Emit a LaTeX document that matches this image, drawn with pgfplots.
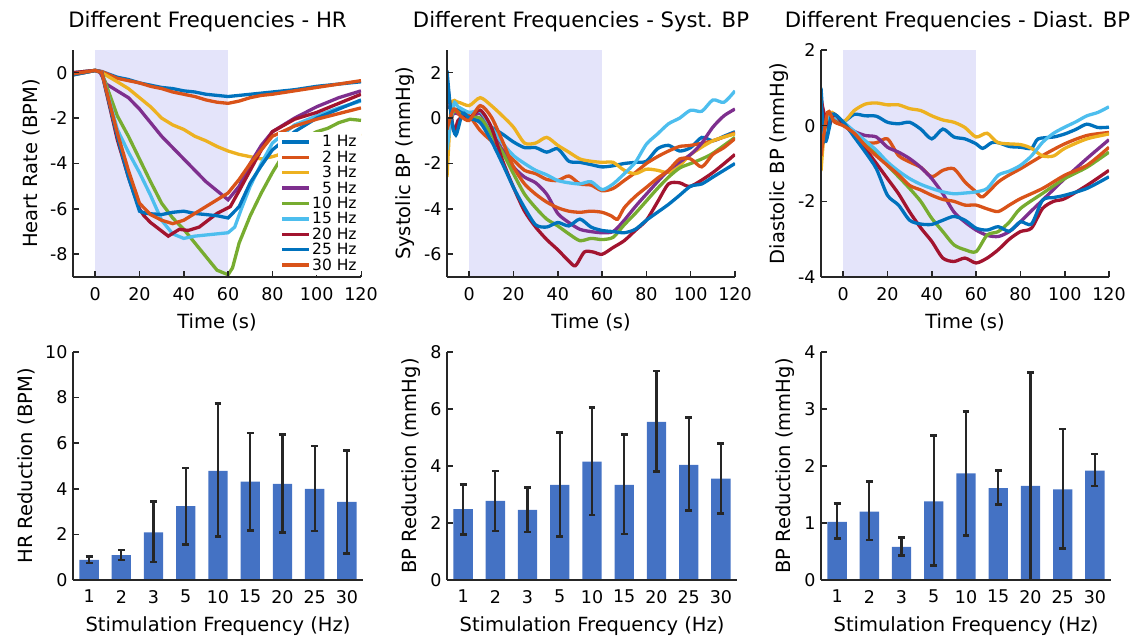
\documentclass[border=0pt]{standalone}
\usepackage{fontspec}
\setmainfont{DejaVu Sans}
\usepackage{pgfplots}
\pgfplotsset{compat=1.18}
\definecolor{m1}{RGB}{0,114,189}
\definecolor{m2}{RGB}{217,83,25}
\definecolor{m3}{RGB}{237,177,32}
\definecolor{m4}{RGB}{126,47,142}
\definecolor{m5}{RGB}{119,172,48}
\definecolor{m6}{RGB}{77,190,238}
\definecolor{m7}{RGB}{162,20,47}
\definecolor{barblue}{RGB}{68,114,196}
\definecolor{shade}{RGB}{228,228,250}
\definecolor{axgray}{RGB}{38,38,38}
\pgfplotsset{
  base/.style={
    scale only axis, anchor=south west,
    axis lines*=left, xtick pos=bottom, ytick pos=left,
    axis line style={line width=2bp, color=axgray},
    tick align=inside, major tick length=6bp,
    tick style={line width=1.6bp, color=axgray},
    tick label style={font=\fontsize{17.5bp}{20bp}\selectfont},
    label style={font=\fontsize{19.5bp}{22bp}\selectfont},
    xticklabel shift=6.5bp, yticklabel shift=2bp, ylabel shift=3bp, xlabel shift=7bp,
    /pgf/number format/assume math mode=true,
    axis on top,
  },
  top/.style={base, width=288bp, height=227bp, xmin=-10, xmax=120,
    xtick={0,20,...,120}, xlabel={Time (s)}},
  bot/.style={base, width=290bp, height=228bp, xmin=-0.5, xmax=8.5, ymin=0,
    xtick={0,...,8}, xticklabels={1,2,3,5,10,15,20,25,30},
    xtick style={draw=none}, xlabel={Stimulation Frequency (Hz)}},
  ln/.style={line width=3.3bp},
  sm/.style={line width=3.3bp, smooth, tension=0.45},
  brs/.style={ybar, bar width=0.6, fill=barblue, draw=none,
    error bars/.cd, y dir=both, y explicit, error mark=-,
    error bar style={line width=2.2bp, color=black!85},
    error mark options={rotate=90, line width=2.6bp, mark size=3.4bp, color=black!85}},
}
\begin{document}
\begin{tikzpicture}
\useasboundingbox (0,0) rectangle (1136bp,636bp);
\node[anchor=base, font=\fontsize{21.2bp}{24bp}\selectfont] at (207.5bp,608bp) {Different Frequencies - HR};
\node[anchor=base, font=\fontsize{21.2bp}{24bp}\selectfont] at (581bp,608bp) {Different Frequencies - Syst. BP};
\node[anchor=base, font=\fontsize{21.2bp}{24bp}\selectfont] at (957.5bp,608bp) {Different Frequencies - Diast. BP};

% ---------------- HR ----------------
\begin{axis}[top, at={(73bp,359bp)}, ymin=-9, ymax=1, ytick={-8,-6,...,0},
  ylabel={Heart Rate (BPM)},
  legend style={at={(1,0)}, anchor=south east, yshift=2bp, draw=none, fill=white,
    font=\fontsize{15.5bp}{16bp}\selectfont,
    nodes={inner sep=1.2bp, text height=11.5bp, text depth=1.5bp}},
  legend cell align=right,
  legend image code/.code={\draw[#1] (0bp,0bp) -- (27bp,0bp);}]
\addplot[draw=none, fill=shade, forget plot] coordinates {(0,-9) (60,-9) (60,1) (0,1)};
\addplot[ln, m1] coordinates {(-10,-0.05) (-5,0) (0,0.1) (3,0.05) (10,-0.2) (15,-0.3) (20,-0.45) (25,-0.55) (30,-0.65) (35,-0.7) (40,-0.8) (45,-0.85) (50,-0.95) (55,-1.0) (60,-1.05) (65,-1.0) (70,-0.95) (75,-0.9) (80,-0.85) (90,-0.75) (100,-0.6) (110,-0.5) (120,-0.4)};
\addplot[ln, m2] coordinates {(-10,-0.1) (-5,0) (0,0.1) (3,0.05) (10,-0.25) (15,-0.35) (20,-0.45) (25,-0.6) (30,-0.7) (35,-0.85) (40,-0.95) (45,-1.05) (50,-1.2) (55,-1.3) (60,-1.35) (65,-1.25) (70,-1.1) (75,-1.0) (80,-0.95) (90,-0.8) (100,-0.65) (110,-0.5) (120,-0.35)};
\addplot[ln, m3] coordinates {(-10,-0.05) (-5,0.05) (0,0.1) (3,0.0) (10,-0.4) (15,-0.7) (20,-1.1) (25,-1.5) (30,-2.0) (35,-2.3) (40,-2.5) (45,-2.8) (50,-3.0) (55,-3.25) (60,-3.45) (65,-3.6) (70,-3.7) (75,-3.8) (80,-3.7) (90,-3.4) (100,-3.0) (110,-2.8) (120,-2.7)};
\addplot[ln, m4] coordinates {(-10,0) (0,0.1) (2,0.05) (5,-0.5) (10,-0.8) (15,-1.1) (20,-1.6) (25,-2.2) (30,-2.8) (35,-3.3) (40,-3.8) (45,-4.3) (50,-4.8) (55,-5.2) (60,-5.6) (65,-5.0) (70,-4.0) (75,-3.2) (80,-2.6) (90,-2.0) (100,-1.5) (110,-1.1) (120,-0.8)};
\addplot[ln, m5] coordinates {(-10,-0.05) (0,0.1) (3,0) (10,-1.9) (15,-2.8) (20,-3.8) (25,-4.8) (30,-5.75) (35,-6.4) (40,-6.9) (45,-7.5) (50,-8.1) (55,-8.7) (60,-8.9) (62,-8.6) (65,-7.5) (70,-6.3) (75,-5.3) (80,-4.4) (85,-3.6) (90,-3.1) (100,-2.6) (105,-2.45) (110,-2.2) (115,-2.05) (120,-2.1)};
\addplot[ln, m6] coordinates {(-10,0) (0,0.1) (3,0) (10,-2.5) (15,-3.5) (20,-4.4) (25,-5.4) (30,-6.5) (35,-7.1) (40,-7.3) (45,-7.2) (50,-7.15) (55,-7.1) (60,-7.05) (63,-6.8) (66,-6.0) (70,-5.0) (75,-4.0) (80,-3.1) (90,-2.3) (100,-1.9) (110,-1.55) (120,-1.25)};
\addplot[ln, m7] coordinates {(-10,0) (0,0.1) (3,0) (10,-2.95) (15,-4.6) (20,-6.0) (22,-6.3) (25,-6.6) (29,-6.9) (33,-7.2) (38,-6.9) (42,-6.95) (47,-6.8) (51,-6.5) (55,-6.2) (61,-5.9) (65,-5.2) (70,-4.3) (75,-3.4) (80,-2.6) (90,-2.05) (100,-1.75) (110,-1.35) (120,-0.95)};
\addplot[ln, m1] coordinates {(-10,-0.1) (0,0.1) (3,0) (10,-2.8) (15,-4.6) (20,-6.1) (23,-6.2) (30,-6.25) (35,-6.15) (40,-6.1) (45,-6.2) (50,-6.25) (55,-6.3) (60,-6.4) (65,-5.9) (70,-4.85) (75,-4.1) (80,-3.4) (90,-2.6) (100,-2.0) (110,-1.6) (120,-1.2)};
\addplot[ln, m2] coordinates {(-10,-0.05) (0,0.1) (3,0) (10,-2.65) (15,-4.3) (20,-5.75) (25,-6.25) (30,-6.5) (35,-6.65) (40,-6.5) (45,-6.2) (50,-5.9) (55,-5.6) (60,-5.3) (65,-4.7) (70,-4.0) (75,-3.4) (80,-2.8) (90,-2.35) (100,-2.05) (110,-1.8) (120,-1.55)};
\legend{1 Hz,2 Hz,3 Hz,5 Hz,10 Hz,15 Hz,20 Hz,25 Hz,30 Hz}
\end{axis}

% ---------------- Systolic ----------------
\begin{axis}[top, at={(447bp,359bp)}, ymin=-7, ymax=3, ytick={-6,-4,...,2},
  ylabel={Systolic BP (mmHg)}]
\addplot[draw=none, fill=shade, forget plot] coordinates {(0,-7) (60,-7) (60,3) (0,3)};
\addplot[sm, m1] coordinates {(-10,0.5) (-7,0.4) (-3,0.3) (0,0.05) (5,-0.1) (10,-0.4) (15,-0.7) (20,-1.05) (25,-1.3) (30,-1.3) (35,-1.5) (40,-1.35) (45,-1.9) (50,-1.95) (55,-2.05) (60,-2.15) (65,-2.1) (70,-2.0) (75,-1.95) (80,-1.9) (85,-1.35) (90,-1.2) (95,-1.45) (100,-1.3) (105,-0.85) (110,-1.0) (115,-0.8) (120,-0.6)};
\addplot[sm, m2] coordinates {(-10,-0.4) (-7,0.3) (-4,0.2) (0,0.1) (5,-0.55) (10,-1.0) (15,-1.4) (20,-1.85) (25,-2.3) (30,-2.45) (35,-2.7) (40,-2.75) (45,-2.55) (50,-2.9) (55,-2.95) (60,-3.2) (65,-3.1) (70,-2.75) (75,-2.4) (80,-2.0) (85,-1.7) (90,-1.45) (95,-1.25) (100,-1.2) (110,-1.0) (120,-0.65)};
\addplot[sm, m3] coordinates {(-10,-2.6) (-8,0.55) (-5,0.7) (0,0.55) (5,0.9) (10,0.55) (15,0.1) (20,-0.4) (25,-1.1) (30,-1.1) (35,-0.85) (40,-1.2) (45,-1.5) (50,-1.8) (55,-1.9) (60,-1.95) (65,-1.95) (70,-2.3) (75,-2.45) (80,-2.25) (85,-2.3) (90,-2.4) (95,-2.1) (100,-1.6) (110,-1.0) (120,-0.7)};
\addplot[sm, m4] coordinates {(-10,-0.5) (-7,0.2) (-3,0.1) (0,0.0) (5,0.2) (10,-0.55) (15,-1.4) (20,-2.15) (25,-2.6) (30,-2.85) (35,-3.35) (40,-4.2) (45,-4.6) (50,-4.9) (55,-5.0) (60,-5.05) (65,-5.0) (70,-4.5) (75,-3.9) (80,-3.35) (90,-2.3) (100,-1.6) (105,-1.1) (110,-0.4) (115,0.1) (120,0.4)};
\addplot[sm, m5] coordinates {(-10,-0.8) (-7,0.3) (-3,0.1) (0,0.0) (5,0.0) (10,-0.7) (15,-1.5) (20,-2.45) (25,-3.35) (30,-3.95) (35,-4.45) (40,-4.75) (45,-5.1) (50,-5.4) (55,-5.3) (60,-5.35) (65,-5.25) (70,-4.7) (75,-4.2) (80,-3.65) (85,-3.1) (90,-2.6) (95,-2.2) (100,-2.0) (105,-1.8) (110,-1.55) (120,-0.85)};
\addplot[sm, m6] coordinates {(-10,-1.4) (-7,0.6) (-5,0.5) (0,0.25) (5,0.3) (10,-0.4) (15,-1.1) (20,-1.65) (25,-2.0) (30,-2.3) (35,-2.5) (40,-2.75) (45,-2.85) (50,-2.9) (55,-2.8) (60,-3.15) (65,-2.9) (70,-2.45) (75,-1.95) (80,-1.15) (85,-0.7) (90,-0.25) (95,0.0) (100,0.35) (105,0.3) (110,0.8) (115,0.7) (120,1.2)};
\addplot[sm, m7] coordinates {(-10,1.7) (-7,-0.55) (-5,-0.1) (-2,0.1) (0,0.0) (5,0.35) (10,-0.4) (15,-1.85) (20,-3.05) (25,-4.1) (30,-4.8) (35,-5.35) (40,-5.8) (45,-6.3) (48,-6.5) (52,-5.9) (56,-5.9) (60,-6.0) (65,-5.7) (70,-5.4) (75,-4.95) (80,-4.5) (85,-3.7) (90,-2.9) (95,-2.85) (100,-3.0) (110,-2.4) (120,-1.6)};
\addplot[sm, m1] coordinates {(-10,2.1) (-8,0.0) (-6,-0.75) (-3,0.2) (0,0.0) (5,-0.2) (10,-1.0) (15,-2.0) (20,-3.05) (25,-3.95) (30,-4.7) (35,-4.8) (40,-4.6) (45,-4.75) (50,-4.45) (55,-4.8) (60,-4.95) (65,-5.0) (70,-5.05) (75,-4.9) (80,-4.5) (85,-4.15) (90,-3.8) (95,-3.4) (100,-3.0) (105,-2.9) (110,-2.6) (115,-2.3) (120,-2.0)};
\addplot[sm, m2] coordinates {(-10,-0.5) (-7,0.4) (-4,0.1) (0,-0.1) (5,0.55) (10,0.05) (15,-1.0) (20,-2.15) (25,-2.9) (30,-3.35) (35,-3.7) (40,-3.95) (45,-4.1) (50,-4.15) (55,-4.1) (60,-4.15) (64,-4.3) (67,-4.45) (70,-3.95) (75,-3.45) (80,-3.05) (85,-2.65) (90,-2.3) (95,-1.8) (100,-1.8) (105,-2.15) (110,-1.6) (115,-1.3) (120,-0.9)};
\end{axis}

% ---------------- Diastolic ----------------
\begin{axis}[top, at={(821bp,359bp)}, ymin=-4, ymax=2, ytick={-4,-2,0,2},
  ylabel={Diastolic BP (mmHg)}]
\addplot[draw=none, fill=shade, forget plot] coordinates {(0,-4) (60,-4) (60,2) (0,2)};
\addplot[sm, m1] coordinates {(-10,1.0) (-8,-0.4) (-5,0.2) (0,0.1) (5,0.3) (10,0.26) (15,0.25) (20,0.09) (25,0.05) (30,0.09) (35,-0.09) (40,-0.35) (45,-0.09) (50,-0.3) (55,-0.35) (60,-0.48) (63,-0.6) (67,-0.45) (70,-0.45) (75,-0.55) (80,-0.57) (85,-0.6) (88,-0.35) (95,-0.3) (100,-0.22) (105,-0.1) (110,0.04) (115,-0.05) (120,-0.04)};
\addplot[sm, m2] coordinates {(-10,-0.6) (-7,0.35) (-4,0.2) (0,0.05) (5,-0.18) (10,-0.44) (15,-0.45) (20,-0.35) (25,-0.79) (30,-0.96) (35,-1.1) (40,-1.35) (45,-1.18) (50,-1.14) (55,-1.49) (60,-1.75) (63,-1.88) (70,-1.49) (75,-1.3) (80,-1.14) (90,-0.79) (100,-0.48) (110,-0.26) (120,-0.18)};
\addplot[sm, m3] coordinates {(-10,-1.2) (-8,0.1) (-5,0.35) (0,0.1) (5,0.4) (10,0.57) (15,0.6) (20,0.55) (25,0.55) (30,0.45) (35,0.4) (40,0.26) (45,0.15) (50,0.09) (55,-0.05) (60,-0.3) (65,-0.2) (70,-0.45) (80,-0.5) (85,-0.6) (90,-0.8) (95,-0.8) (100,-0.6) (110,-0.35) (120,-0.22)};
\addplot[sm, m4] coordinates {(-10,-0.3) (-6,0.3) (0,0.05) (5,-0.15) (10,-0.26) (15,-0.3) (20,-0.57) (25,-0.7) (30,-0.87) (35,-1.1) (40,-1.4) (45,-1.8) (50,-2.28) (55,-2.55) (60,-2.76) (65,-2.9) (70,-2.93) (75,-2.8) (80,-2.54) (85,-2.25) (90,-1.97) (100,-1.4) (110,-0.87) (120,-0.37)};
\addplot[sm, m5] coordinates {(-10,-0.5) (-6,0.3) (0,0.05) (5,-0.2) (10,-0.48) (15,-0.7) (20,-1.05) (25,-1.35) (30,-1.66) (35,-2.0) (40,-2.45) (45,-2.8) (50,-3.15) (55,-3.28) (60,-3.33) (65,-2.89) (70,-2.8) (75,-2.55) (80,-2.19) (90,-1.79) (100,-1.4) (110,-1.1) (120,-0.7)};
\addplot[sm, m6] coordinates {(-10,-0.2) (-6,0.3) (-3,0.2) (0,0.1) (5,-0.15) (10,-0.4) (15,-0.65) (20,-0.96) (25,-1.2) (30,-1.4) (35,-1.55) (40,-1.66) (45,-1.75) (50,-1.8) (55,-1.78) (60,-1.75) (65,-1.66) (70,-1.31) (75,-1.2) (80,-1.05) (85,-0.8) (90,-0.44) (95,-0.2) (100,-0.04) (105,0.1) (110,0.26) (115,0.35) (120,0.5)};
\addplot[sm, m7] coordinates {(-10,0.7) (-7,0.0) (-4,0.3) (0,0.05) (5,-0.25) (10,-0.61) (15,-1.0) (20,-1.4) (25,-1.8) (30,-2.28) (35,-2.7) (40,-3.06) (45,-3.5) (50,-3.59) (55,-3.5) (60,-3.63) (65,-3.5) (70,-3.28) (75,-3.0) (80,-2.8) (85,-2.71) (90,-2.19) (95,-2.0) (100,-1.93) (110,-1.58) (120,-1.18)};
\addplot[sm, m1] coordinates {(-10,0.7) (-8,-0.4) (-5,0.3) (0,0.1) (5,-0.3) (10,-0.7) (15,-1.14) (20,-1.84) (25,-2.1) (30,-2.5) (35,-2.6) (40,-2.61) (45,-2.5) (50,-2.4) (55,-2.5) (60,-2.71) (65,-2.76) (70,-2.67) (75,-2.79) (80,-2.54) (85,-2.6) (90,-1.97) (95,-1.9) (100,-1.84) (110,-1.66) (120,-1.35)};
\addplot[sm, m2] coordinates {(-10,-0.8) (-7,0.35) (-4,0.1) (0,0.0) (5,-0.2) (10,-0.53) (15,-0.8) (20,-1.05) (25,-1.3) (30,-1.58) (35,-1.7) (40,-1.84) (45,-1.95) (50,-2.0) (55,-2.1) (60,-2.1) (65,-2.2) (70,-2.27) (75,-2.1) (80,-1.93) (90,-1.66) (100,-1.31) (110,-1.05) (120,-0.57)};
\end{axis}

% ---------------- Bars ----------------
\begin{axis}[bot, at={(73bp,56bp)}, ymax=10, ytick={0,2,...,10}, ylabel={HR Reduction (BPM)}]
\addplot[brs] coordinates {
 (0,0.88) += (0,0.15) -= (0,0.13)
 (1,1.09) += (0,0.22) -= (0,0.21)
 (2,2.09) += (0,1.36) -= (0,1.30)
 (3,3.24) += (0,1.68) -= (0,1.68)
 (4,4.79) += (0,2.95) -= (0,2.89)
 (5,4.31) += (0,2.14) -= (0,2.13)
 (6,4.22) += (0,2.16) -= (0,2.13)
 (7,4.00) += (0,1.88) -= (0,1.85)
 (8,3.43) += (0,2.26) -= (0,2.28)};
\end{axis}
\begin{axis}[bot, at={(447bp,56bp)}, ymax=8, ytick={0,2,...,8}, ylabel={BP Reduction (mmHg)}]
\addplot[brs] coordinates {
 (0,2.49) += (0,0.87) -= (0,0.89)
 (1,2.78) += (0,1.05) -= (0,1.06)
 (2,2.46) += (0,0.79) -= (0,0.77)
 (3,3.34) += (0,1.84) -= (0,1.81)
 (4,4.15) += (0,1.91) -= (0,1.87)
 (5,3.34) += (0,1.76) -= (0,1.73)
 (6,5.55) += (0,1.79) -= (0,1.75)
 (7,4.04) += (0,1.67) -= (0,1.61)
 (8,3.56) += (0,1.24) -= (0,1.22)};
\end{axis}
\begin{axis}[bot, at={(821bp,56bp)}, ymax=4, ytick={0,1,...,4}, ylabel={BP Reduction (mmHg)}]
\addplot[brs] coordinates {
 (0,1.02) += (0,0.32) -= (0,0.29)
 (1,1.20) += (0,0.53) -= (0,0.50)
 (2,0.58) += (0,0.17) -= (0,0.15)
 (3,1.38) += (0,1.15) -= (0,1.13)
 (4,1.87) += (0,1.09) -= (0,1.09)
 (5,1.61) += (0,0.31) -= (0,0.29)
 (6,1.65) += (0,1.99) -= (0,2.00)
 (7,1.59) += (0,1.06) -= (0,1.04)
 (8,1.92) += (0,0.29) -= (0,0.27)};
\end{axis}
\end{tikzpicture}
\end{document}
